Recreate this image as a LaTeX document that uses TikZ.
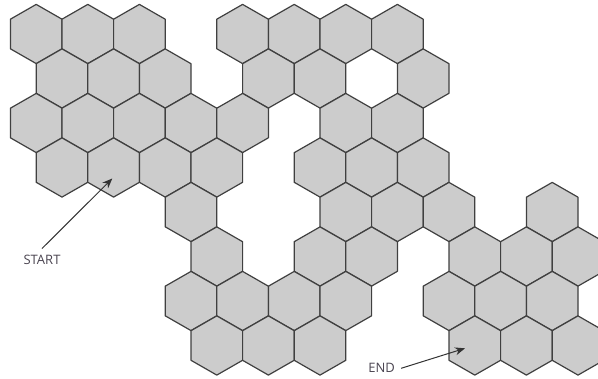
\documentclass[tikz,border=0pt]{standalone}
\usepackage{fontspec}
\setmainfont{Open Sans}
\usetikzlibrary{arrows.meta}
\definecolor{hexfill}{HTML}{CCCCCC}
\definecolor{hexline}{HTML}{404040}
\definecolor{tagtext}{HTML}{4A4450}
\definecolor{pointerline}{HTML}{333333}
\begin{document}
\begin{tikzpicture}[x=1pt,y=-1pt,
  hexcell/.style={fill=hexfill,draw=hexline,line width=1.2pt,line join=round},
  tag/.style={font=\fontsize{13}{15}\selectfont,text=tagtext,inner sep=6pt},
  pointer/.style={draw=pointerline,line width=1pt,-{Stealth[length=10pt,width=8pt]}}]
\useasboundingbox (0,0) rectangle (598,379);
\begin{scope}
\clip (0,0) rectangle (598,379);
\foreach \r/\cols in {0/{0,2,4,8,10,12,14},
                      1/{1,3,5,9,11,15},
                      2/{0,2,4,6,8,12,14},
                      3/{1,3,5,7,11,13,15},
                      4/{6,12,14,16,20},
                      5/{7,11,13,17,19,21},
                      6/{6,8,10,12,16,18,20},
                      7/{7,9,11,17,19,21}}{
  \foreach \k in \cols {
    \path[hexcell] ({36.2+25.8*\k},{34+44.5*\r})
      +(0,-29.6) -- +(25.8,-14.8) -- +(25.8,14.8) -- +(0,29.6)
      -- +(-25.8,14.8) -- +(-25.8,-14.8) -- cycle;
  }
}
\end{scope}
\node[tag] (start) at (42,259.5) {START};
\node[tag] (finish) at (381.7,368.3) {END};
\coordinate (starttip) at (112.3,178.5);
\coordinate (finishtip) at (465,348.3);
\draw[pointer] (start.north) -- (starttip);
\draw[pointer] (finish.east) -- (finishtip);
\end{tikzpicture}
\end{document}
